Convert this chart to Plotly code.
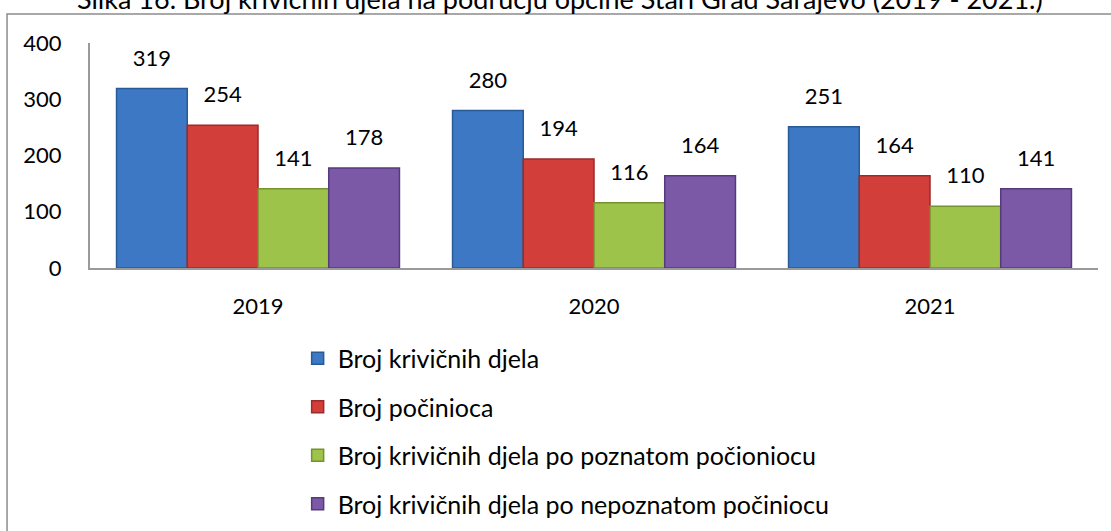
import plotly.graph_objects as go

categories = ["2019", "2020", "2021"]
series_names = [
    "Broj krivičnih djela",
    "Broj počinioca",
    "Broj krivičnih djela po poznatom počioniocu",
    "Broj krivičnih djela po nepoznatom počiniocu",
]
krivicna_djela = [319, 280, 251]
pocinioci = [254, 194, 164]
poznati = [141, 116, 110]
nepoznati = [178, 164, 141]
series_values = [krivicna_djela, pocinioci, poznati, nepoznati]
y_ticks = [0, 100, 200, 300, 400]
title_text = "Slika 16. Broj krivičnih djela na području općine Stari Grad Sarajevo (2019 - 2021.)"

fill_colors = ["#3C78C3", "#D23F3B", "#9DC34A", "#7C59A6"]
line_colors = ["#2A5A96", "#9C2B28", "#74932F", "#563B7C"]

FONT = "Lato"
fig = go.Figure()
for i, (name, vals) in enumerate(zip(series_names, series_values)):
    fig.add_trace(go.Bar(
        x=categories, y=vals, name=name,
        marker=dict(color=fill_colors[i], line=dict(color=line_colors[i], width=1.5)),
        offsetgroup=str(i), legendgroup=str(i),
    ))
for i, vals in enumerate(series_values):
    fig.add_trace(go.Scatter(
        x=categories, y=vals, mode="markers+text", text=[str(v) for v in vals],
        textposition="top center", marker=dict(size=26, opacity=0),
        textfont=dict(family=FONT, size=22, color="#000000"),
        offsetgroup=str(i), showlegend=False, hoverinfo="skip", cliponaxis=False,
    ))

fig.update_layout(
    width=1111, height=531,
    margin=dict(l=90, r=13, t=43, b=263, autoexpand=False),
    plot_bgcolor="white", paper_bgcolor="white",
    barmode="group", bargap=0.158, bargroupgap=0,
    scattermode="group", scattergap=0.158,
    font=dict(family=FONT, size=22, color="#000000"),
    showlegend=True,
    legend=dict(
        x=0.206, xanchor="left", y=-0.30, yanchor="top",
        traceorder="grouped", tracegroupgap=13,
        font=dict(family=FONT, size=25, color="#000000"),
        bgcolor="rgba(0,0,0,0)", itemwidth=30,
    ),
    xaxis=dict(
        type="category", showgrid=False, zeroline=False,
        showline=True, linecolor="#9A9A9A", linewidth=2,
        ticks="", ticklabelstandoff=18,
        tickfont=dict(family=FONT, size=22),
    ),
    yaxis=dict(
        range=[0, 400], tickvals=y_ticks, showgrid=False, zeroline=False,
        showline=True, linecolor="#9A9A9A", linewidth=2,
        ticks="", ticklabelstandoff=22,
        tickfont=dict(family=FONT, size=22),
    ),
    shapes=[dict(
        type="rect", xref="paper", yref="paper",
        x0=-0.0823, x1=1.02, y0=-1.2, y1=1.129,
        line=dict(color="#8C8C8C", width=1.5), fillcolor="rgba(0,0,0,0)", layer="below",
    )],
    annotations=[dict(
        text=title_text, xref="paper", yref="paper",
        x=0.947, xanchor="right", y=1.196, yanchor="middle",
        showarrow=False, font=dict(family=FONT, size=27, color="#000000"),
    )],
)

fig.write_html(
    "out.html",
    config={"displayModeBar": False},
    post_script="document.body.style.margin='0';document.body.style.overflow='hidden';",
)
